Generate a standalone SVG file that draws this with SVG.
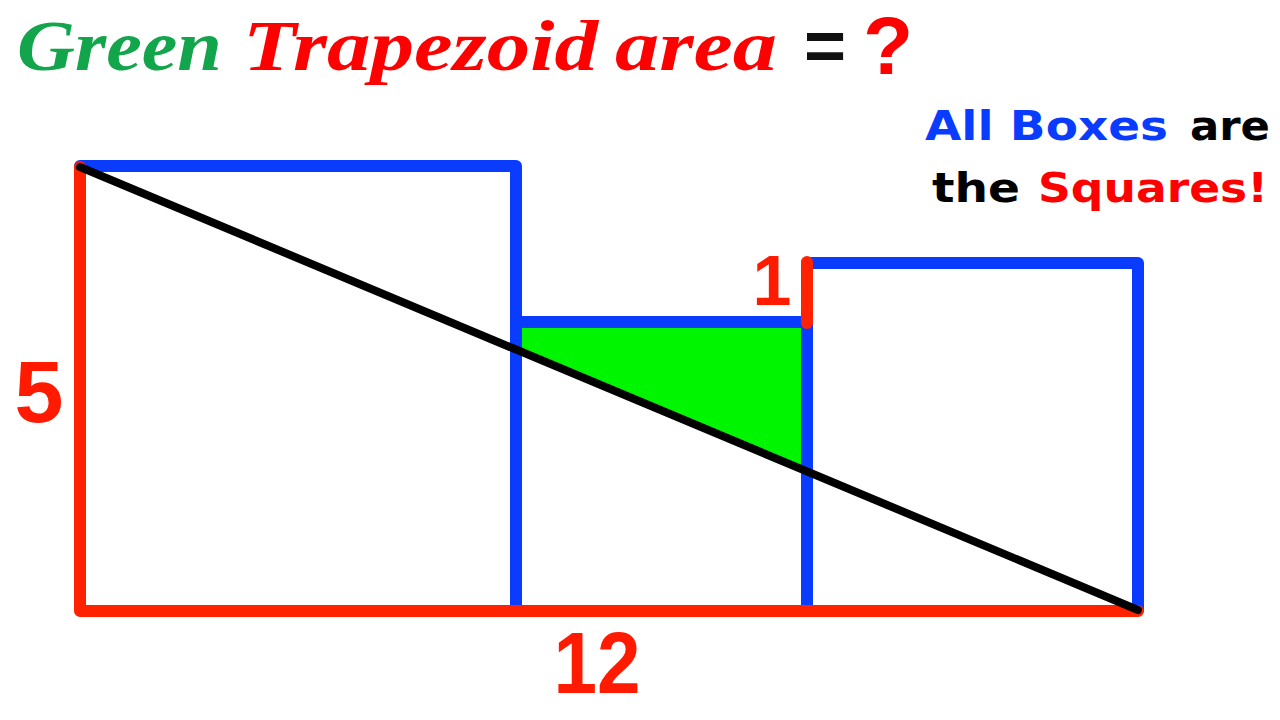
<svg xmlns="http://www.w3.org/2000/svg" width="1280" height="720" viewBox="0 0 1280 720">
<style>
.blue{fill:none;stroke:#0A3CFF;stroke-width:12;stroke-linecap:round;stroke-linejoin:round}
.red{fill:none;stroke:#FF2200;stroke-width:12;stroke-linecap:round;stroke-linejoin:round}
.diag{stroke:#000;stroke-width:8;stroke-linecap:round}
.title{font-family:"Liberation Serif",serif;font-weight:bold;font-style:italic;font-size:72px}
.note{font-family:"DejaVu Sans",sans-serif;font-weight:bold;font-size:40px}
.num{font-family:"Liberation Sans",Arial,sans-serif;font-weight:bold;fill:#FF1A00}
</style>
<rect width="1280" height="720" fill="#fff"/>
<g id="title">
<text class="title" y="70"><tspan x="17" fill="#13A54B" textLength="205" lengthAdjust="spacingAndGlyphs">Green</tspan><tspan x="243" fill="#F00" textLength="355" lengthAdjust="spacingAndGlyphs">Trapezoid</tspan><tspan x="615" fill="#F00" textLength="162" lengthAdjust="spacingAndGlyphs">area</tspan></text>
<text x="825" y="70" text-anchor="middle" font-family="Liberation Sans,sans-serif" font-weight="bold" font-size="72" fill="#111">=</text>
<text x="888" y="74" text-anchor="middle" font-family="Liberation Sans,sans-serif" font-weight="bold" font-size="82" fill="#F00">?</text>
</g>
<g id="note">
<text class="note" y="140"><tspan x="925" fill="#0A3CFF" textLength="243" lengthAdjust="spacingAndGlyphs">All Boxes</tspan><tspan x="1190" fill="#000" textLength="80" lengthAdjust="spacingAndGlyphs">are</tspan></text>
<text class="note" y="202"><tspan x="932" fill="#000" textLength="88" lengthAdjust="spacingAndGlyphs">the</tspan><tspan x="1038" fill="#F00" textLength="230" lengthAdjust="spacingAndGlyphs">Squares!</tspan></text>
</g>
<g id="trapezoid">
<polygon points="522,328 801,328 801,469 522,352" fill="#00F500"/>
</g>
<g id="squares">
<polyline class="blue" points="80,166 516,166 516,605"/>
<polyline class="blue" points="516,322 807,322"/>
<polyline class="blue" points="807,605 807,263 1138,263 1138,610"/>
</g>
<g id="connectors">
<polyline class="red" points="80,167 80,611 1138,611"/>
<line class="red" x1="807" y1="262" x2="807" y2="323"/>
<line class="diag" x1="80" y1="167" x2="1138" y2="610"/>
</g>
<g id="labels">
<text class="num" x="39" y="422" text-anchor="middle" font-size="88">5</text>
<text class="num" x="597" y="693" text-anchor="middle" font-size="88" textLength="87" lengthAdjust="spacingAndGlyphs">12</text>
<text class="num" x="772" y="305" text-anchor="middle" font-size="70">1</text>
</g>
</svg>
